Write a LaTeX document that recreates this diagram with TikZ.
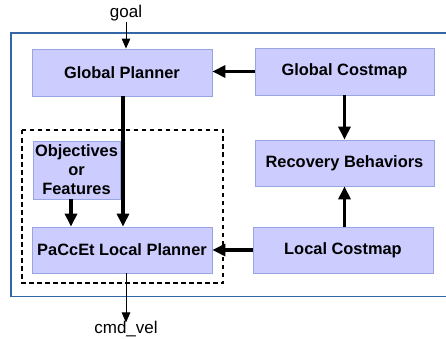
\documentclass[tikz,border=0pt]{standalone}
\usepackage{fontspec}
\setmainfont{Liberation Sans}
\usetikzlibrary{arrows.meta,calc}
\definecolor{boxfill}{HTML}{CCCCFF}
\definecolor{boxline}{HTML}{97A6E0}
\definecolor{outerblue}{HTML}{3465A4}
\tikzset{
  blk/.style={draw=boxline, line width=0.8pt, fill=boxfill, inner sep=0pt,
    font=\fontsize{16.4}{19}\selectfont\bfseries, align=center},
  thick arrow/.style={line width=3.8pt, -{Triangle[length=13pt,width=12pt]}},
  thin arrow/.style={line width=1pt, -{Triangle[length=10pt,width=8.5pt]}},
  lbl/.style={font=\fontsize{17}{20}\selectfont, inner sep=0pt}
}
\begin{document}
\begin{tikzpicture}[x=1pt,y=-1pt]
\useasboundingbox (0,0) rectangle (446,339);
\draw[outerblue, line width=1.3pt] (450,33) -- (11,33) -- (11,296.5) -- (450,296.5);
\draw[black, line width=1.8pt, dash pattern=on 4.5pt off 3.5pt] (22,130) rectangle (223,283);

\node[blk, minimum width=180, minimum height=47] (gp) at (122,72.5) {Global Planner};
\node[blk, minimum width=179, minimum height=47] (gc) at (344.5,71.5) {Global Costmap};
\node[blk, minimum width=179, minimum height=46] (rb) at (344.5,163) {Recovery Behaviors};
\node[blk, minimum width=180, minimum height=46] (lc) at (343,250) {Local Costmap};
\node[blk, minimum width=180, minimum height=46] (pac) at (122,250) {PaCcEt Local Planner};
\node[blk, minimum width=87, minimum height=58] (obj) at (76.5,170) {Objectives\\or\\Features};

\node[lbl, anchor=base] (goal) at (126,18) {goal};
\node[lbl, anchor=base] (cmd) at (126,333) {cmd\_vel};

\coordinate (gin) at (126,0);
\draw[thin arrow] (goal.south -| gin) -- (gp.north -| gin);
\draw[thick arrow] ([xshift=1pt]gp.south) -- ([xshift=1pt]pac.north);
\draw[thick arrow] ([xshift=-5.5pt]obj.south) -- ([xshift=-5.5pt]obj.south |- pac.north);
\draw[thick arrow] (gc.west) -- (gc.west -| gp.east);
\draw[thick arrow] (gc.south) -- (rb.north);
\draw[thick arrow] (lc.north -| rb.south) -- (rb.south);
\draw[thick arrow] (lc.west) -- (lc.west -| pac.east);
\draw[thin arrow] (pac.south -| gin) -- ([yshift=-2pt]cmd.north -| gin);
\end{tikzpicture}
\end{document}
